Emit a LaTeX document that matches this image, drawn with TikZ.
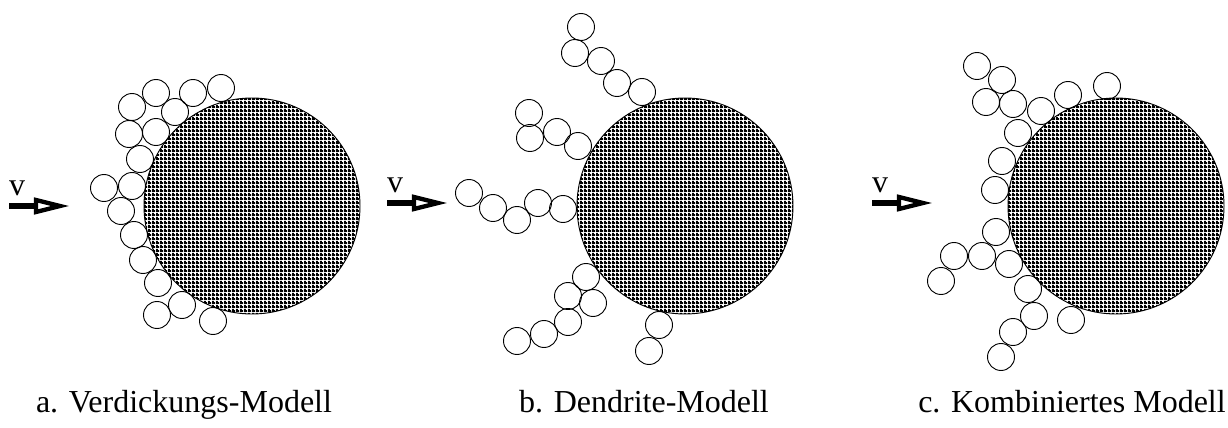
\documentclass[tikz,border=0pt]{standalone}
\usepackage{fontspec}
\setmainfont{Liberation Serif}
\usetikzlibrary{patterns}

\pgfdeclarepatternformonly{densehatch}{\pgfpointorigin}{\pgfpoint{3pt}{3pt}}{\pgfpoint{3pt}{3pt}}{
    \pgfpathrectangle{\pgfpointorigin}{\pgfpoint{3pt}{1.7pt}}
    \pgfpathrectangle{\pgfpointorigin}{\pgfpoint{1.7pt}{3pt}}
    \pgfusepath{fill}
}

\tikzset{
    particle/.style={draw, line width=0.7pt},
    core/.style={draw, line width=0.7pt, pattern=densehatch},
    flow/.style={line width=4.5pt},
    flowhead/.style={line width=3.2pt, fill=white, line join=miter},
    caption/.style={anchor=base, font=\fontsize{24}{28}\selectfont},
}

\begin{document}
\begin{tikzpicture}[x=0.75pt, y=-0.75pt]
    \useasboundingbox (0,0) rectangle (1228,428);
    % a. Verdickung
    \foreach \px/\py in {156/93, 193/93, 221/88, 132/107, 175/112, 129/134,
        156/132, 140/159, 104/188, 132/186, 121/211, 134/235, 143/260,
        158/283, 182/305, 157/315, 213/321}
        \draw[particle] (\px,\py) circle (13.5);
    \draw[core] (252,206) circle (108);
    % b. Dendrite
    \foreach \px/\py in {581/27, 575/53, 601/61, 617/83, 642/92, 529/113,
        530/138, 557/132, 578/146, 469/193, 493/208, 517/220, 538/203,
        563/209, 586/277, 568/296, 593/303, 568/322, 544/334, 517/341,
        659/325, 649/351}
        \draw[particle] (\px,\py) circle (13.5);
    \draw[core] (685,206) circle (108);
    % c. kombiniert
    \foreach \px/\py in {977/66, 1002/80, 986/102, 1013/104, 1041/111,
        1068/95, 1107/86, 1018/133, 1002/161, 995/190, 996/232, 954/256,
        982/256, 1009/264, 941/281, 1028/289, 1034/316, 1071/320, 1013/332,
        1001/357}
        \draw[particle] (\px,\py) circle (13.5);
    \draw[core] (1116,206) circle (108);
    % Anstroemung
    \foreach \ax/\ay in {9/206, 387/203, 872/203}{
        \draw[flow] (\ax,\ay) -- ++(29,0);
        \draw[flowhead] (\ax+27,\ay-6) -- (\ax+51,\ay) -- (\ax+27,\ay+6) -- cycle;
        \node[caption] at (\ax+8,\ay-11) {v};
    }
    \node[caption] (capa) at (184,412) {a. Verdickungs-Modell};
    \node[caption] (capb) at (644,412) {b. Dendrite-Modell};
    \node[caption] (capc) at (1072,412) {c. Kombiniertes Modell};
\end{tikzpicture}
\end{document}
